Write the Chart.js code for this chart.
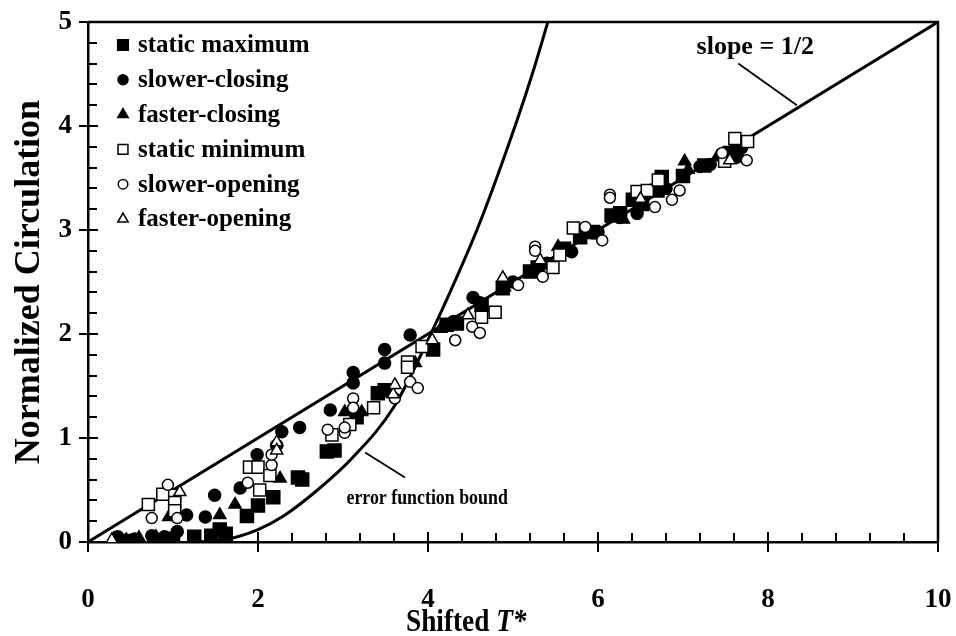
<!DOCTYPE html>
<html>
<head>
<meta charset="utf-8">
<script src="https://cdn.jsdelivr.net/npm/chart.js@4/dist/chart.umd.min.js"></script>
<style>
  html, body { margin: 0; padding: 0; background: #fff; }
  #wrap { width: 956px; height: 636px; }
</style>
</head>
<body>
<div id="wrap"><canvas id="c" width="956" height="636"></canvas></div>
<script>
// Series labels (legend order)
const seriesNames = ['static maximum', 'slower-closing', 'faster-closing',
                     'static minimum', 'slower-opening', 'faster-opening'];

// static maximum (filled squares)
const staticMaxX = [0.5, 0.85, 1.0, 1.25, 1.45, 1.55, 1.62, 1.87, 2.0, 2.18, 2.47, 2.52, 2.81, 2.9, 3.16, 3.41, 3.49,
                    4.06, 4.22, 4.34, 4.63, 4.88, 5.2, 5.29, 5.6, 5.79, 5.94, 6.16, 6.26, 6.41, 6.52, 6.7, 6.75, 7.0,
                    7.25, 7.55, 7.63];
const staticMaxY = [0.01, 0.02, 0.03, 0.05, 0.06, 0.12, 0.08, 0.25, 0.35, 0.43, 0.62, 0.6, 0.87, 0.88, 1.2, 1.43, 1.46,
                    1.85, 2.09, 2.1, 2.28, 2.44, 2.6, 2.64, 2.82, 2.93, 2.98, 3.14, 3.16, 3.29, 3.25, 3.38, 3.51, 3.52,
                    3.62, 3.74, 3.75];

// slower-closing (filled circles)
const slowCloseX = [0.35, 0.55, 0.75, 0.9, 1.05, 1.16, 1.38, 1.49, 1.79, 1.99, 2.22, 2.28, 2.49, 2.85, 3.12, 3.12,
                    3.49, 3.49, 3.79, 4.3, 4.53, 4.61, 5.0, 5.4, 5.69, 6.0, 6.26, 6.46, 6.8, 7.2, 7.32, 7.63, 7.69];
const slowCloseY = [0.05, 0.03, 0.06, 0.05, 0.1, 0.26, 0.24, 0.45, 0.52, 0.84, 0.93, 1.06, 1.1, 1.27, 1.53, 1.63,
                    1.72, 1.85, 1.99, 2.12, 2.35, 2.3, 2.5, 2.68, 2.79, 2.98, 3.12, 3.16, 3.4, 3.61, 3.63, 3.7, 3.79];

// faster-closing (filled triangles)
const fastCloseX = [0.3, 0.45, 0.6, 0.8, 0.95, 1.55, 1.73, 2.26, 3.02, 3.22, 3.85, 4.15, 4.9, 5.53, 6.0, 6.3, 6.5,
                    7.02, 7.06, 7.4];
const fastCloseY = [0.03, 0.02, 0.04, 0.05, 0.24, 0.26, 0.36, 0.61, 1.25, 1.25, 1.72, 2.05, 2.45, 2.84, 2.95, 3.1, 3.25,
                    3.66, 3.58, 3.7];

// static minimum (open squares)
const staticMinX = [0.71, 0.88, 1.02, 1.02, 1.02, 1.9, 2.0, 2.02, 2.14, 2.87, 3.08, 3.36, 3.76, 3.76, 3.93, 4.63, 4.79,
                    5.47, 5.55, 5.71, 6.46, 6.58, 6.71, 7.49, 7.61, 7.76];
const staticMinY = [0.36, 0.46, 0.45, 0.38, 0.3, 0.72, 0.72, 0.5, 0.64, 1.03, 1.13, 1.29, 1.73, 1.68, 1.88, 2.16, 2.21,
                    2.64, 2.76, 3.02, 3.37, 3.38, 3.48, 3.66, 3.88, 3.85];

// slower-opening (open circles)
const slowOpenX = [0.75, 0.94, 1.05, 1.88, 2.16, 2.16, 2.82, 3.02, 3.02, 3.12, 3.12, 3.61, 3.79, 3.88, 4.32, 4.52, 4.61,
                   5.06, 5.26, 5.26, 5.35, 5.85, 6.05, 6.14, 6.14, 6.67, 6.87, 6.96, 7.46, 7.75];
const slowOpenY = [0.23, 0.55, 0.23, 0.57, 0.74, 0.84, 1.08, 1.05, 1.1, 1.38, 1.29, 1.38, 1.54, 1.48, 1.94, 2.07, 2.01,
                   2.47, 2.84, 2.8, 2.55, 3.03, 2.9, 3.34, 3.31, 3.22, 3.29, 3.38, 3.74, 3.67];

// faster-opening (open triangles)
const fastOpenX = [0.28, 1.08, 2.22, 2.22, 3.59, 3.61, 4.05, 4.47, 4.88, 5.32, 6.5, 7.55];
const fastOpenY = [0.02, 0.48, 0.96, 0.88, 1.42, 1.51, 1.94, 2.18, 2.54, 2.71, 3.3, 3.67];

// reference line of slope 1/2
const slopeX = [0, 10];
const slopeY = [0, 5];

// error function bound curve
const erfX = [1.3, 1.6, 2.0, 2.3, 2.7, 3.1, 3.6, 4.05, 4.22, 4.6, 5.05, 5.25, 5.41];
const erfY = [0.0, 0.02, 0.12, 0.25, 0.5, 0.8, 1.3, 2.03, 2.33, 3.05, 4.06, 4.56, 5.0];

// axis tick values
const xTicks = [0, 2, 4, 6, 8, 10];
const yTicks = [0, 1, 2, 3, 4, 5];

const SERIF = '"Liberation Serif", "Times New Roman", serif';

function pts(xs, ys) { return xs.map((x, i) => ({ x: x, y: ys[i] })); }

const markerDefs = [
  { x: staticMaxX, y: staticMaxY, style: 'rect',     r: 9.2, fill: '#000', lg: 7.5 },
  { x: slowCloseX, y: slowCloseY, style: 'circle',   r: 6,   fill: '#000', lg: 5 },
  { x: fastCloseX, y: fastCloseY, style: 'triangle', r: 7,   fill: '#000', lg: 6 },
  { x: staticMinX, y: staticMinY, style: 'rect',     r: 8.5, fill: '#fff', lg: 7 },
  { x: slowOpenX,  y: slowOpenY,  style: 'circle',   r: 5.5, fill: '#fff', lg: 4.8 },
  { x: fastOpenX,  y: fastOpenY,  style: 'triangle', r: 7,   fill: '#fff', lg: 6 }
];

const datasets = markerDefs.map((m, i) => ({
  type: 'scatter',
  label: seriesNames[i],
  data: pts(m.x, m.y),
  pointStyle: m.style,
  pointRadius: m.r,
  pointHoverRadius: m.r,
  pointBackgroundColor: m.fill,
  pointBorderColor: '#000',
  pointBorderWidth: 1.5,
  showLine: false,
  order: 6 - i,
  legendSize: m.lg
}));

datasets.push({
  type: 'line',
  label: 'slope',
  data: pts(slopeX, slopeY),
  borderColor: '#000',
  borderWidth: 3,
  pointRadius: 0,
  fill: false,
  order: 20
});
datasets.push({
  type: 'line',
  label: 'erf',
  data: pts(erfX, erfY),
  borderColor: '#000',
  borderWidth: 3,
  pointRadius: 0,
  fill: false,
  cubicInterpolationMode: 'monotone',
  order: 21
});

function drawMarker(ctx, style, r, fill, x, y) {
  ctx.save();
  ctx.fillStyle = fill;
  ctx.strokeStyle = '#000';
  ctx.lineWidth = 1.5;
  ctx.beginPath();
  if (style === 'rect') {
    const s = Math.SQRT1_2 * r;
    ctx.rect(x - s, y - s, 2 * s, 2 * s);
  } else if (style === 'circle') {
    ctx.arc(x, y, r, 0, Math.PI * 2);
  } else {
    for (let k = 0; k < 3; k++) {
      const a = k * 2 * Math.PI / 3;
      const px = x + Math.sin(a) * r, py = y - Math.cos(a) * r;
      if (k === 0) ctx.moveTo(px, py); else ctx.lineTo(px, py);
    }
    ctx.closePath();
  }
  ctx.fill();
  ctx.stroke();
  ctx.restore();
}

// text drawn slightly narrowed, like the typeset figure lettering
function narrowText(ctx, text, x, y, sx, align) {
  ctx.save();
  ctx.translate(x, y);
  ctx.scale(sx, 1);
  ctx.textAlign = align;
  ctx.fillText(text, 0, 0);
  ctx.restore();
}

// frame, tick marks, legend, axis title and annotations
const decor = {
  id: 'decor',
  afterDraw(chart) {
    const ctx = chart.ctx;
    const xs = chart.scales.x, ys = chart.scales.y;
    const a = chart.chartArea;
    ctx.save();
    ctx.strokeStyle = '#000';
    ctx.fillStyle = '#000';
    ctx.lineCap = 'butt';

    // top and right frame
    ctx.lineWidth = 2.5;
    ctx.beginPath();
    ctx.moveTo(a.left, a.top);
    ctx.lineTo(a.right, a.top);
    ctx.lineTo(a.right, a.bottom);
    ctx.stroke();

    // x ticks: majors cross the axis, minors point inward
    ctx.lineWidth = 2;
    ctx.beginPath();
    for (let v = 0; v <= 10.001; v += 0.4) {
      const px = Math.round(xs.getPixelForValue(v));
      const major = Math.abs(v / 2 - Math.round(v / 2)) < 1e-6;
      if (major) { ctx.moveTo(px, a.bottom - 10); ctx.lineTo(px, a.bottom + 10); }
      else { ctx.moveTo(px, a.bottom); ctx.lineTo(px, a.bottom - 9); }
    }
    // y ticks
    for (let v = 0; v <= 5.001; v += 0.2) {
      const py = Math.round(ys.getPixelForValue(v));
      const major = Math.abs(v - Math.round(v)) < 1e-6;
      if (major) { ctx.moveTo(a.left - 9, py); ctx.lineTo(a.left + 10, py); }
      else { ctx.moveTo(a.left, py); ctx.lineTo(a.left + 9, py); }
    }
    ctx.stroke();

    // legend
    const lx = a.left + 35, ly0 = a.top + 23, step = 34.8;
    ctx.font = 'bold 25px ' + SERIF;
    ctx.textBaseline = 'middle';
    chart.data.datasets.forEach((ds, i) => {
      if (ds.type !== 'scatter') return;
      const y = ly0 + i * step;
      drawMarker(ctx, ds.pointStyle, ds.legendSize, ds.pointBackgroundColor, lx, y);
      narrowText(ctx, ds.label, lx + 15, y + 1, 1.0, 'left');
    });

    // annotations
    ctx.font = 'bold 26px ' + SERIF;
    narrowText(ctx, 'slope = 1/2', xs.getPixelForValue(7.85), ys.getPixelForValue(4.76), 1.0, 'center');
    ctx.font = 'bold 21px ' + SERIF;
    narrowText(ctx, 'error function bound', xs.getPixelForValue(3.99), ys.getPixelForValue(0.42), 0.85, 'center');
    ctx.lineWidth = 1.8;
    ctx.beginPath();
    ctx.moveTo(xs.getPixelForValue(7.65), ys.getPixelForValue(4.6));
    ctx.lineTo(xs.getPixelForValue(8.34), ys.getPixelForValue(4.2));
    ctx.moveTo(xs.getPixelForValue(3.26), ys.getPixelForValue(0.86));
    ctx.lineTo(xs.getPixelForValue(3.73), ys.getPixelForValue(0.62));
    ctx.stroke();

    // x axis title with italic symbol
    ctx.textBaseline = 'alphabetic';
    const p1 = 'Shifted ', p2 = 'T*', sx = 0.88;
    ctx.font = 'bold 31px ' + SERIF;
    const w1 = ctx.measureText(p1).width * sx;
    ctx.font = 'italic bold 31px ' + SERIF;
    const w2 = ctx.measureText(p2).width * sx;
    const cx = xs.getPixelForValue(4.45);
    const x0 = cx - (w1 + w2) / 2, by = 631;
    ctx.font = 'bold 31px ' + SERIF;
    narrowText(ctx, p1, x0, by, sx, 'left');
    ctx.font = 'italic bold 31px ' + SERIF;
    narrowText(ctx, p2, x0 + w1, by, sx, 'left');
    ctx.restore();
  }
};

new Chart(document.getElementById('c'), {
  data: { datasets: datasets },
  options: {
    responsive: false,
    animation: false,
    devicePixelRatio: 1,
    layout: { padding: { top: 22, right: 18, left: 0, bottom: 0 } },
    plugins: {
      legend: { display: false },
      tooltip: { enabled: false }
    },
    scales: {
      x: {
        type: 'linear',
        min: 0, max: 10,
        afterBuildTicks(s) { s.ticks = xTicks.map(v => ({ value: v })); },
        afterFit(s) { s.height = 94; },
        ticks: {
          color: '#000',
          padding: 0,
          font: { family: SERIF, size: 27, weight: 'bold' },
          maxRotation: 0
        },
        grid: { display: true, drawOnChartArea: false, drawTicks: true, tickLength: 42, tickColor: 'rgba(0,0,0,0)' },
        border: { display: true, color: '#000', width: 2.5 }
      },
      y: {
        type: 'linear',
        min: 0, max: 5,
        afterBuildTicks(s) { s.ticks = yTicks.map(v => ({ value: v })); },
        afterFit(s) { s.width = 88; },
        ticks: {
          color: '#000',
          padding: 0,
          font: { family: SERIF, size: 27, weight: 'bold' }
        },
        title: {
          display: true,
          text: 'Normalized Circulation',
          color: '#000',
          padding: { top: 8, bottom: 0 },
          font: { family: SERIF, size: 36, weight: 'bold' }
        },
        grid: { display: true, drawOnChartArea: false, drawTicks: true, tickLength: 16, tickColor: 'rgba(0,0,0,0)' },
        border: { display: true, color: '#000', width: 2.5 }
      }
    }
  },
  plugins: [decor]
});
</script>
</body>
</html>
